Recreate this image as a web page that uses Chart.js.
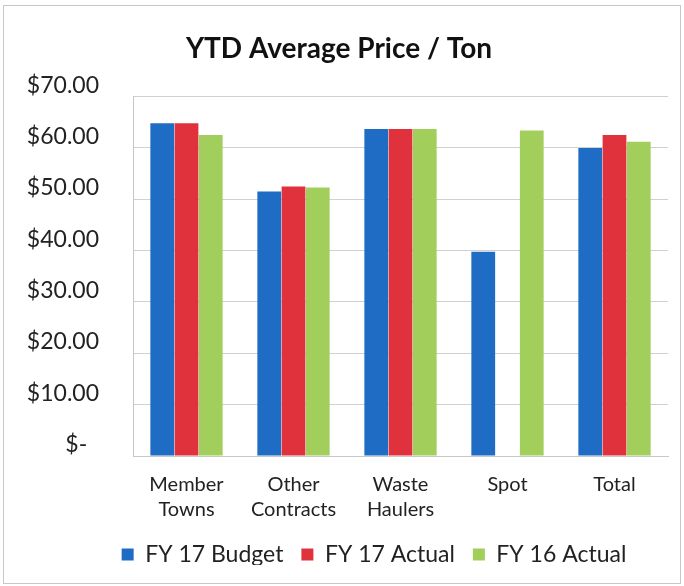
<!DOCTYPE html>
<html>
<head>
<meta charset="utf-8">
<script src="https://cdn.jsdelivr.net/npm/chart.js@4/dist/chart.umd.min.js"></script>
<style>
html,body{margin:0;padding:0;background:#fff;}
#wrap{width:684px;height:586px;position:relative;}
</style>
</head>
<body>
<div id="wrap"><canvas id="c" width="684" height="586"></canvas></div>
<script>
const categories = [["Member","Towns"],["Other","Contracts"],["Waste","Haulers"],"Spot","Total"];
const fy17Budget = [64.8, 51.5, 63.7, 39.8, 60.0];
const fy17Actual = [64.8, 52.5, 63.7, null, 62.5];
const fy16Actual = [62.5, 52.3, 63.7, 63.4, 61.2];
const yTicks = [0, 10, 20, 30, 40, 50, 60, 70];

const FONT = "Lato, 'Liberation Sans', sans-serif";

const frame = {
  id: 'frame',
  beforeDraw(chart) {
    const ctx = chart.ctx;
    ctx.save();
    ctx.fillStyle = '#fff';
    ctx.fillRect(0, 0, chart.width, chart.height);
    ctx.strokeStyle = '#c8c8c8';
    ctx.lineWidth = 1;
    ctx.strokeRect(3.5, 5.5, chart.width - 7, chart.height - 8);
    ctx.restore();
  },
  afterLayout(chart) {
    // Excel-style legend: slightly right of centre
    const lg = chart.legend;
    if (lg) { lg.left += 35; lg.right += 35; lg.top -= 13; lg.bottom -= 13; }
  }
};

new Chart(document.getElementById('c'), {
  type: 'bar',
  data: {
    labels: categories,
    datasets: [
      { label: 'FY 17 Budget', data: fy17Budget, backgroundColor: '#1f6cc4' },
      { label: 'FY 17 Actual', data: fy17Actual, backgroundColor: '#e0323c' },
      { label: 'FY 16 Actual', data: fy16Actual, backgroundColor: '#a2cf5c' }
    ]
  },
  options: {
    responsive: false,
    animation: false,
    devicePixelRatio: 1,
    layout: { padding: { top: 32, right: 16, bottom: 8, left: 10 } },
    datasets: { bar: { barPercentage: 0.98, categoryPercentage: 0.68 } },
    plugins: {
      title: {
        display: true,
        text: 'YTD Average Price / Ton',
        color: '#111',
        font: { family: FONT, size: 28, weight: 'bold' },
        padding: { top: 0, bottom: 31 }
      },
      legend: {
        position: 'bottom',
        maxHeight: 40,
        labels: {
          color: '#222',
          font: { family: FONT, size: 23 },
          boxWidth: 12,
          boxHeight: 12,
          padding: 18
        }
      },
      tooltip: { enabled: false }
    },
    scales: {
      x: {
        grid: { display: false, drawTicks: false },
        border: { display: true, color: '#c8c8c8' },
        ticks: {
          color: '#222',
          font: { family: FONT, size: 20, lineHeight: 1.25 },
          padding: 16,
          maxRotation: 0
        }
      },
      y: {
        min: 0,
        max: 70,
        afterBuildTicks(scale) { scale.ticks = yTicks.map(v => ({ value: v })); },
        afterFit(scale) { scale.width = 123; },
        grid: { color: '#d0d0d0', drawTicks: false },
        border: { display: true, color: '#c8c8c8' },
        ticks: {
          color: '#222',
          font: { family: FONT, size: 23 },
          padding: 34,
          align: 'end',
          callback: v => v === 0 ? '$-\u00a0\u00a0' : '$' + v.toFixed(2)
        }
      }
    }
  },
  plugins: [frame]
});
</script>
</body>
</html>
